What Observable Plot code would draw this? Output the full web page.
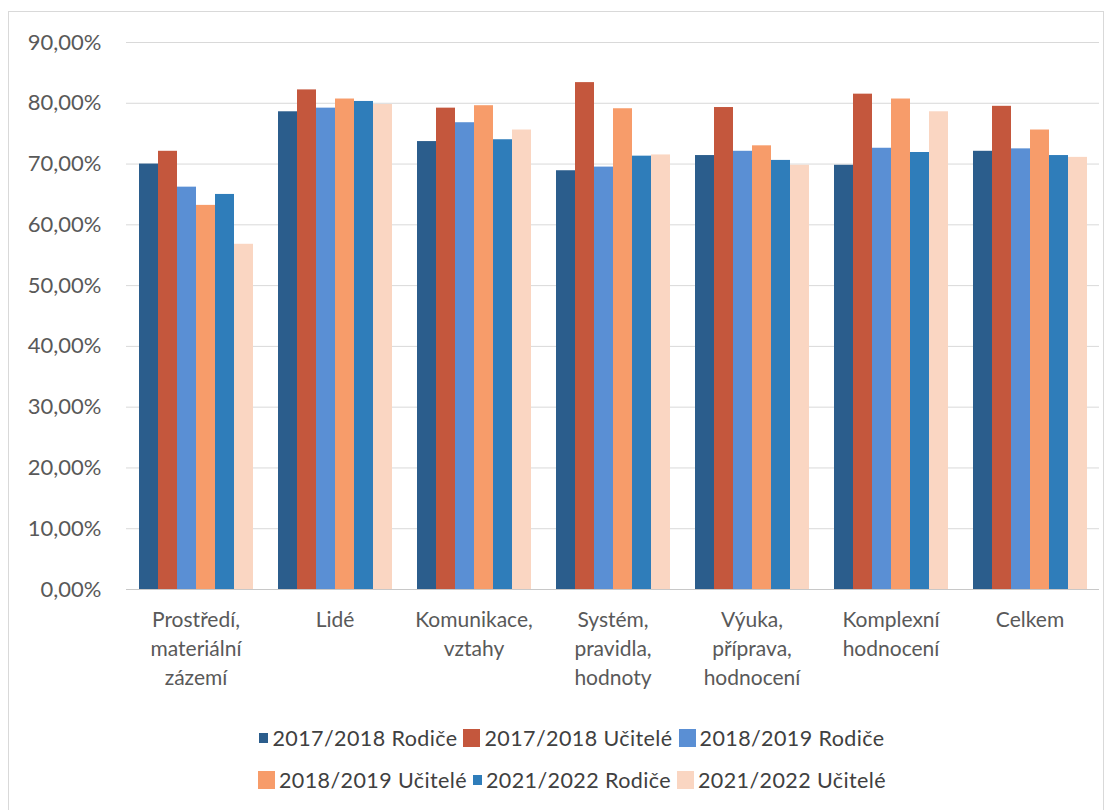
<!DOCTYPE html>
<html>
<head>
<meta charset="utf-8">
<script src="https://cdn.jsdelivr.net/npm/d3@7"></script>
<script src="https://cdn.jsdelivr.net/npm/@observablehq/plot@0.6"></script>
<style>
  html, body { margin: 0; padding: 0; background: #fff; }
  body { width: 1112px; height: 810px; position: relative; overflow: hidden; font-family: Lato, "Open Sans", sans-serif; }
  #frame { position: absolute; left: 8px; top: 11px; width: 1096px; height: 820px; border: 1px solid #d9d9d9; box-sizing: border-box; }
  #chart { position: absolute; left: 0; top: 0; }
  #legend { position: absolute; left: 16px; top: 717px; width: 1112px; color: #404040; font-size: 21.5px; letter-spacing: 0.4px; }
  .row { display: flex; justify-content: center; align-items: center; height: 42px; }
  .item { display: flex; align-items: center; margin: 0 3px; white-space: nowrap; }
  .sw { display: inline-block; margin-right: 4px; }
</style>
</head>
<body>
<div id="frame"></div>
<div id="chart"></div>
<div id="legend"></div>
<script>
const categories = [
  "Prostředí,\nmateriální\nzázemí",
  "Lidé",
  "Komunikace,\nvztahy",
  "Systém,\npravidla,\nhodnoty",
  "Výuka,\npříprava,\nhodnocení",
  "Komplexní\nhodnocení",
  "Celkem"
];
const series = [
  "2017/2018 Rodiče",
  "2017/2018 Učitelé",
  "2018/2019 Rodiče",
  "2018/2019 Učitelé",
  "2021/2022 Rodiče",
  "2021/2022 Učitelé"
];
const colors = ["#2b5d8c", "#c4573d", "#5a8fd4", "#f79c6a", "#2f7dba", "#fad6c2"];
const swatchSizes = [9, 17, 17, 17, 9, 17];

const v2017Rodice  = [70.0, 78.6, 73.7, 68.9, 71.4, 69.8, 72.1];
const v2017Ucitele = [72.1, 82.2, 79.2, 83.4, 79.3, 81.5, 79.5];
const v2018Rodice  = [66.2, 79.2, 76.8, 69.5, 72.1, 72.6, 72.5];
const v2018Ucitele = [63.2, 80.7, 79.6, 79.1, 73.0, 80.7, 75.6];
const v2021Rodice  = [65.0, 80.3, 74.0, 71.3, 70.6, 71.9, 71.4];
const v2021Ucitele = [56.8, 79.8, 75.6, 71.5, 69.8, 78.6, 71.1];
const yTicks = [0, 10, 20, 30, 40, 50, 60, 70, 80, 90];

const seriesValues = [v2017Rodice, v2017Ucitele, v2018Rodice, v2018Ucitele, v2021Rodice, v2021Ucitele];
const data = [];
categories.forEach((c, i) => {
  series.forEach((s, j) => data.push({cat: c, ser: s, value: seriesValues[j][i]}));
});

const fmt = d => d.toFixed(2).replace(".", ",") + "%";

const chart = Plot.plot({
  width: 1112,
  height: 700,
  marginLeft: 124,
  marginRight: 12,
  marginTop: 42,
  marginBottom: 111,
  style: {fontFamily: "Lato, 'Open Sans', sans-serif", background: "transparent"},
  fx: {domain: categories, padding: 0, label: null},
  x: {domain: series, axis: null, paddingInner: 0, paddingOuter: 0.65},
  y: {domain: [0, 90], label: null},
  color: {domain: series, range: colors},
  marks: [
    Plot.gridY(yTicks, {stroke: "#d9d9d9", strokeOpacity: 1}),
    Plot.barY(data, {fx: "cat", x: "ser", y: "value", fill: "ser"}),
    Plot.ruleY([0], {stroke: "#c8c8c8"}),
    Plot.axisY(yTicks, {tickFormat: fmt, tickSize: 0, tickPadding: 25, fontSize: 22, fill: "#595959", label: null}),
    Plot.axisFx({anchor: "bottom", tickSize: 0, tickPadding: 17, fontSize: 21, lineHeight: 1.38, fill: "#595959", label: null, style: {letterSpacing: "1.1px"}})
  ]
});
document.getElementById("chart").appendChild(chart);

const legend = document.getElementById("legend");
[[0, 3], [3, 6]].forEach(([a, b]) => {
  const row = document.createElement("div");
  row.className = "row";
  series.slice(a, b).forEach((s, k) => {
    const j = a + k;
    const item = document.createElement("span");
    item.className = "item";
    const sw = document.createElement("span");
    sw.className = "sw";
    sw.style.background = colors[j];
    sw.style.width = swatchSizes[j] + "px";
    sw.style.height = (swatchSizes[j] + 1) + "px";
    item.appendChild(sw);
    item.appendChild(document.createTextNode(s));
    row.appendChild(item);
  });
  legend.appendChild(row);
});
</script>
</body>
</html>
